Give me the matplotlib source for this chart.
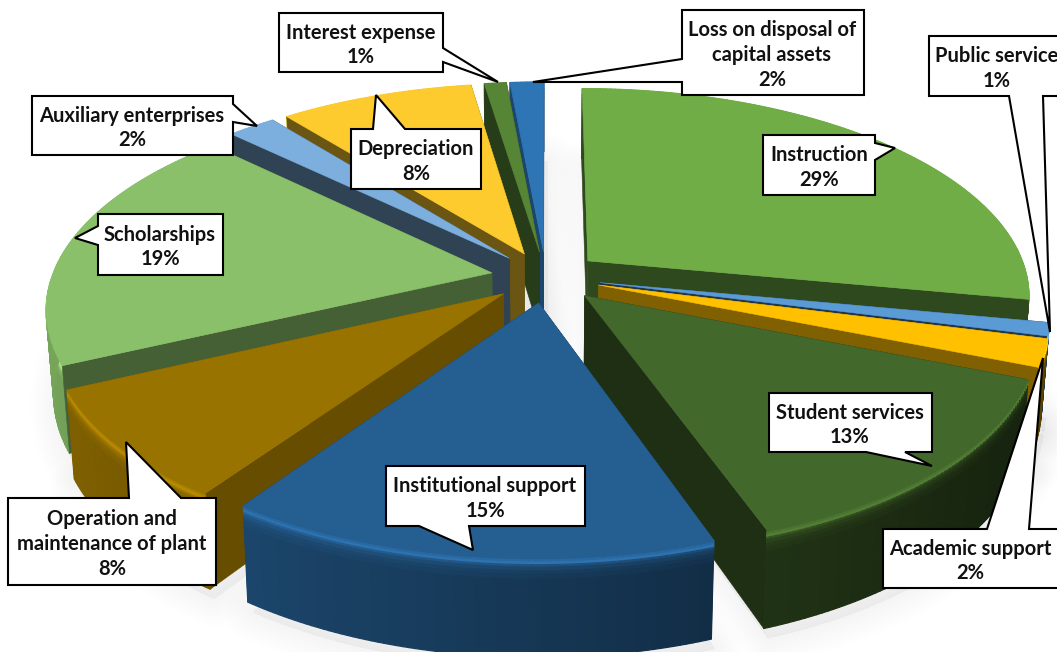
import numpy as np
import matplotlib
matplotlib.use("Agg")
import matplotlib.pyplot as plt
from matplotlib.collections import PolyCollection
from matplotlib.patches import Polygon

# --- data ---
categories = ["Instruction", "Public service", "Academic support", "Student services",
              "Institutional support", "Operation and\nmaintenance of plant", "Scholarships",
              "Auxiliary enterprises", "Depreciation", "Interest expense",
              "Loss on disposal of\ncapital assets"]
percent_labels = [29, 1, 2, 13, 15, 8, 19, 2, 8, 1, 2]
shares = [28.0, 1.0, 2.1, 13.5, 15.0, 8.4, 19.2, 2.08, 8.32, 0.95, 1.45]

# --- style ---
top_colors = ["#70AD47", "#5B9BD5", "#FFC000", "#43682B", "#255E91", "#997300",
              "#8AC069", "#7CAFDD", "#FDCB2E", "#578536", "#2E75B6"]
cut_shade = [0.42, 0.35, 0.5, 0.45, 0.6, 0.67, 0.5, 0.38, 0.42, 0.45, 0.6]
explode = 0.125
CX, CY, R, TILT, PERSP, H = 546.0, 277.0, 440.0, 0.465, 0.16, 82.0

# callout frames: box (l, t, r, b), tail base a, tip, tail base b, text centre x
callouts = {
    "Instruction": ((763, 135, 875, 195), (875, 143), (895, 148), (875, 160), 819),
    "Public service": ((929, 36, 1066, 96), (1009, 96), (1050, 332), (1043, 96), 997),
    "Academic support": ((883, 529, 1066, 588), (987, 529), (1043, 358), (1029, 529), 970),
    "Student services": ((769, 393, 932, 452), (866, 452), (932, 466), (905, 452), 850),
    "Institutional support": ((386, 466, 585, 526), (419, 526), (473, 550), (469, 526), 485),
    "Operation and\nmaintenance of plant": ((8, 498, 216, 585), (129, 498), (126, 442), (181, 498), 112),
    "Scholarships": ((98, 214, 223, 275), (98, 226), (75, 238), (98, 245), 160),
    "Auxiliary enterprises": ((32, 96, 233, 155), (233, 104), (257, 126), (233, 122), 132),
    "Depreciation": ((351, 129, 481, 189), (373, 129), (376, 95), (405, 129), 416),
    "Interest expense": ((279, 13, 443, 72), (443, 48), (498, 82), (443, 62), 361),
    "Loss on disposal of\ncapital assets": ((682, 10, 864, 95), (682, 59), (533, 82), (682, 82), 772),
}


def hexrgb(c):
    return np.array(matplotlib.colors.to_rgb(c))


def project(X, Y, z=0.0):
    w = 1 + PERSP * np.asarray(Y)
    x = CX + R * np.asarray(X) / w
    y = CY - R * TILT * np.asarray(Y) / w
    if np.any(z):
        x = CX + (x - CX) * (1 - 0.015 * z / H)
        y = y + z / w
    return np.column_stack([x, y])


fig = plt.figure(figsize=(10.57, 6.52), dpi=100)
ax = fig.add_axes([0, 0, 1, 1])
ax.set_xlim(0, 1057)
ax.set_ylim(652, 0)
ax.axis("off")

vals = np.array(shares, float)
edges = np.concatenate([[0], np.cumsum(vals)]) / vals.sum() * 2 * np.pi
mids = (edges[:-1] + edges[1:]) / 2
order = np.argsort(-np.cos(mids))

Z_LAYERS = [0, 2, 4, 6, 8, 11, 14, 18, H]
TOP_W = np.array([1.0, 1.12, 1.22, 1.12, 0.95, 0.85, 0.8, 0.75, 0.75])

# soft ground shadow
for i in order:
    th = np.linspace(edges[i], edges[i + 1], 60)
    ox, oy = explode * np.sin(mids[i]), explode * np.cos(mids[i])
    X = np.concatenate([[ox], ox + np.sin(th)])
    Y = np.concatenate([[oy], oy + np.cos(th)])
    P = project(X, Y, H) + np.array([4, 10])
    for lw in range(40, 0, -4):
        ax.add_patch(Polygon(P, closed=True, fc="#000000", ec="#000000", lw=lw,
                             alpha=0.005, zorder=0, joinstyle="round"))

for n, i in enumerate(order):
    z0 = 1 + n
    col = hexrgb(top_colors[i])
    ox, oy = explode * np.sin(mids[i]), explode * np.cos(mids[i])
    th = np.linspace(edges[i], edges[i + 1], max(6, int(shares[i] * 5)))
    X = ox + np.sin(th)
    Y = oy + np.cos(th)
    back = np.cos(mids[i]) > 0
    # radial cut walls
    for e in (edges[i], edges[i + 1]):
        a = project([ox, ox + np.sin(e)], [oy, oy + np.cos(e)])
        b = project([ox, ox + np.sin(e)], [oy, oy + np.cos(e)], H)
        ax.add_patch(Polygon(np.vstack([a, b[::-1]]), closed=True,
                             fc=col * cut_shade[i], ec=col * cut_shade[i], lw=0.4,
                             zorder=z0 + (0.15 if back else 0)))
    # outer wall with bevel highlight
    polys, cols = [], []
    for k in range(len(th) - 1):
        shade = np.clip(0.58 - 0.28 * np.sin(th[k]), 0.35, 0.95)
        for m in range(len(Z_LAYERS) - 1):
            t0 = project(X[k:k + 2], Y[k:k + 2], Z_LAYERS[m])
            t1 = project(X[k:k + 2], Y[k:k + 2], Z_LAYERS[m + 1])
            polys.append(np.vstack([t0, t1[::-1]]))
            c = col * (TOP_W[m] if m < 3 else shade + (TOP_W[m] - 0.75) * 0.8)
            cols.append(np.clip(c, 0, 1))
    ax.add_collection(PolyCollection(polys, facecolors=cols, edgecolors=cols, linewidths=0.9,
                                     zorder=z0 + 0.1))
    # top face
    top = project(np.concatenate([[ox], X]), np.concatenate([[oy], Y]))
    ax.add_patch(Polygon(top, closed=True, fc=col, ec=col, lw=0.4, zorder=z0 + 0.2))

# callouts
for name, val in zip(categories, percent_labels):
    (l, t, r, b), a, tip, c, cx = callouts[name]
    if a[1] == t and c[1] == t:
        outline = [(l, t), a, tip, c, (r, t), (r, b), (l, b)]
    elif a[1] == b and c[1] == b:
        outline = [(l, t), (r, t), (r, b), c, tip, a, (l, b)]
    elif a[0] == r:
        outline = [(l, t), (r, t), a, tip, c, (r, b), (l, b)]
    else:
        outline = [(l, t), (r, t), (r, b), (l, b), c, tip, a]
    ax.add_patch(Polygon(outline, closed=True, fc="white", ec="black", lw=1.5, zorder=50, joinstyle="miter"))
    ax.text(cx, (t + b) / 2 + 2.5, f"{name}\n{val}%", ha="center", va="center", family="Lato",
            fontweight="bold", fontsize=14.5, color="#111111", linespacing=1.3, zorder=51)

fig.savefig("out.png", dpi=100)
